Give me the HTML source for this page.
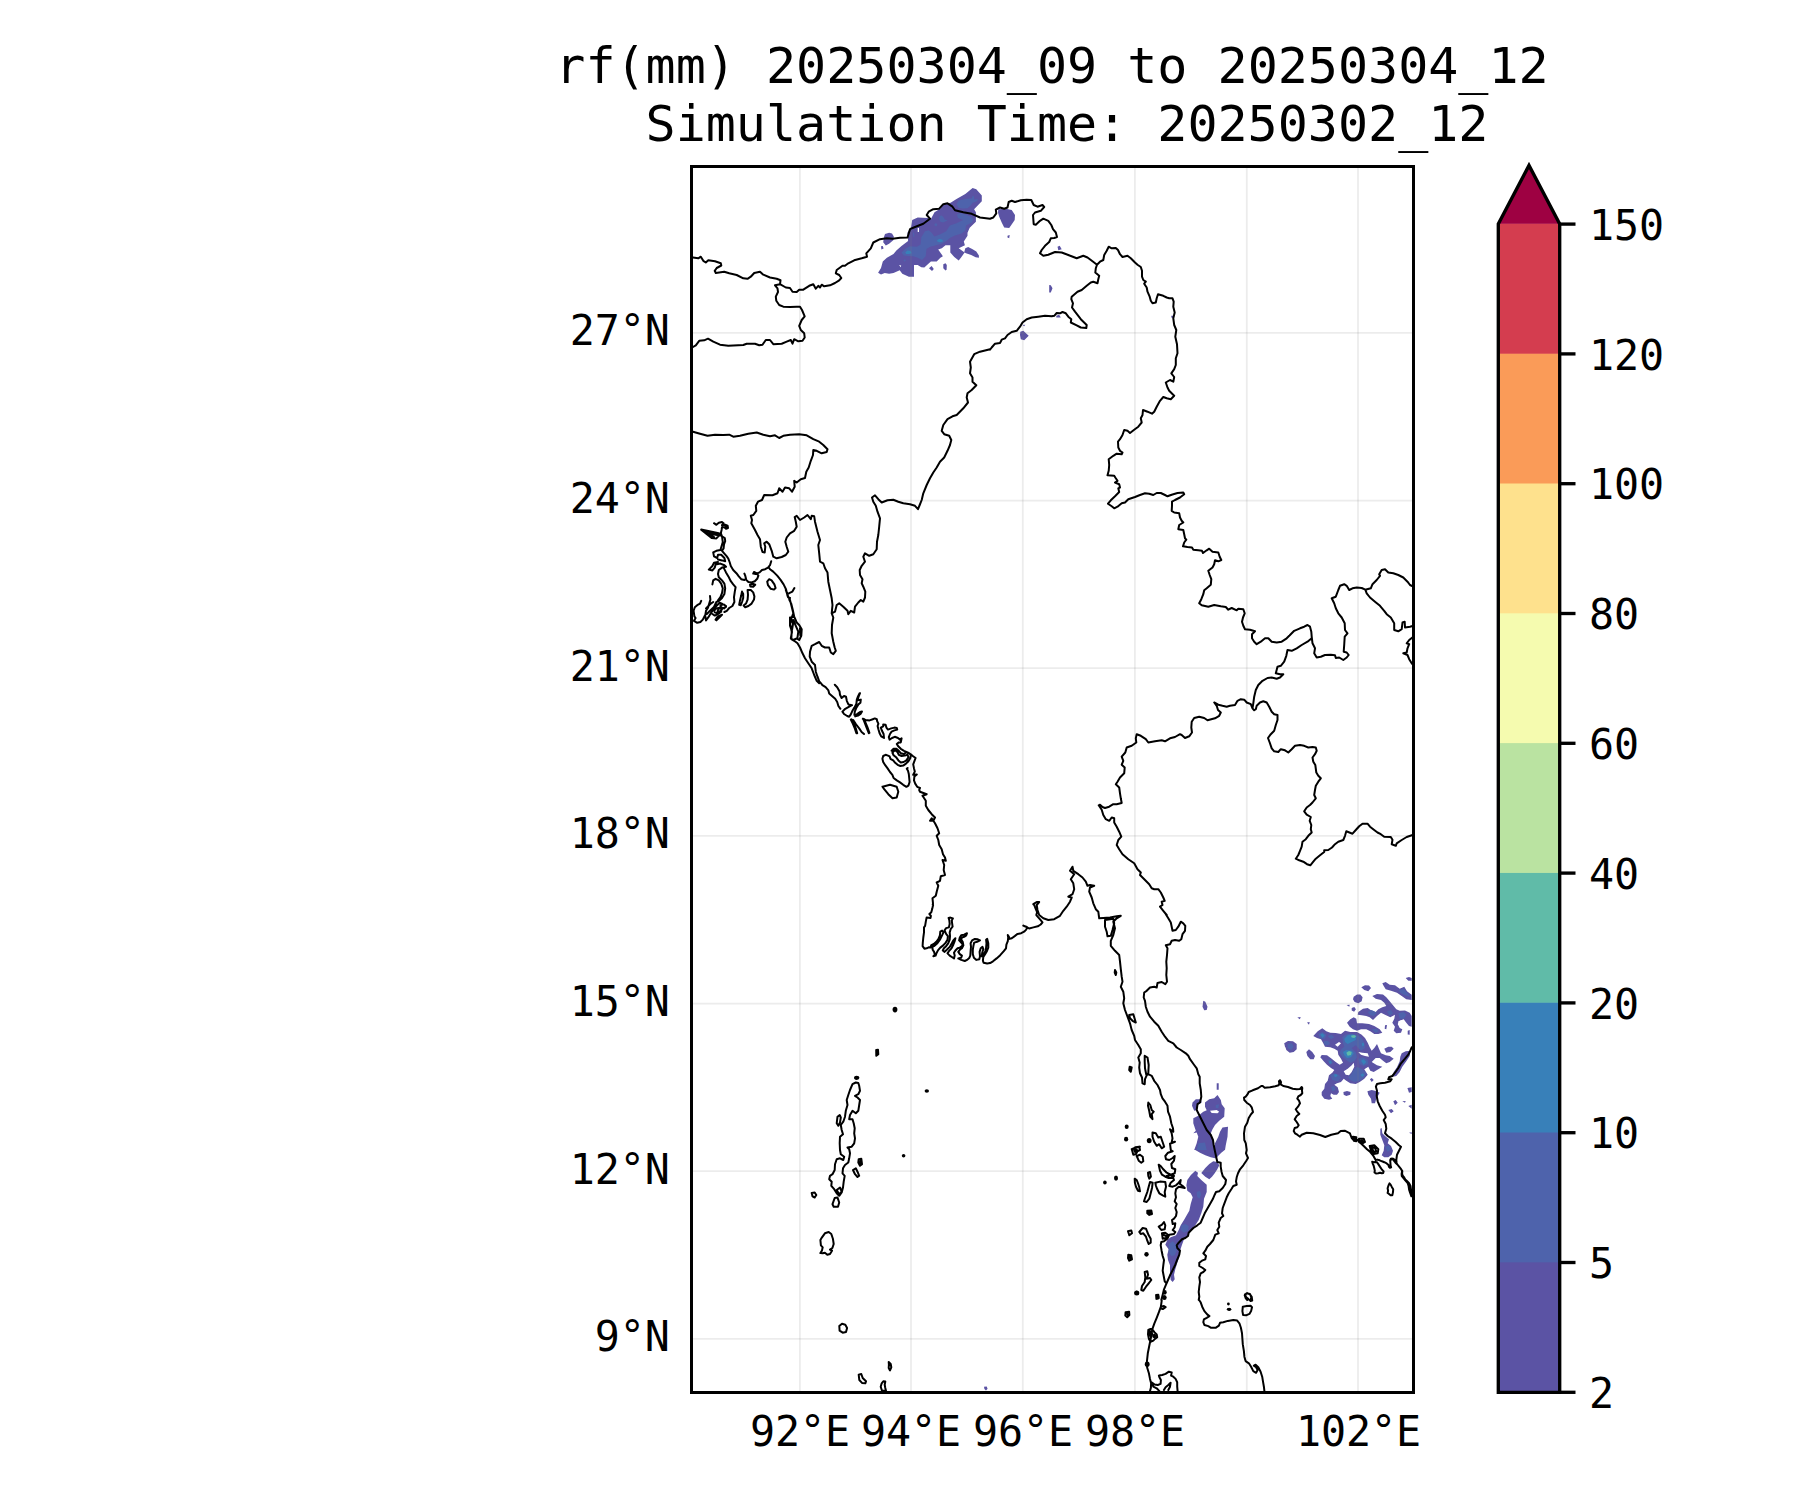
<!DOCTYPE html>
<html><head><meta charset="utf-8"><title>rf(mm) 20250304_09 to 20250304_12</title>
<style>
html,body{margin:0;padding:0;background:#fff;}
body{width:1800px;height:1500px;overflow:hidden;}
svg{display:block;}
text{font-family:"DejaVu Sans Mono","Liberation Mono",monospace;fill:#000;}
.t{font-size:50px;text-anchor:middle;}
.l{font-size:41.67px;letter-spacing:-0.08px;}
.b{fill:none;stroke:#000;stroke-width:2;stroke-linejoin:round;stroke-linecap:round;}
.g{stroke:#808080;stroke-opacity:0.15;stroke-width:1.8;fill:none;}
</style></head><body>
<svg width="1800" height="1500" viewBox="0 0 1800 1500">
<rect width="1800" height="1500" fill="#fff"/>
<text class="t" x="1052" y="83.2">rf(mm) 20250304_09 to 20250304_12</text>
<text class="t" x="1067" y="141">Simulation Time: 20250302_12</text>
<defs><clipPath id="ax"><rect x="691.5" y="166.5" width="722.0" height="1226.0"/></clipPath></defs>
<g clip-path="url(#ax)">
<path fill="#5b53a4" d="M998.3,209.2 1005.8,208.7 1011.7,210.0 1015.0,215.0 1014.7,220.0 1010.8,225.8 1009.2,228.0 1004.2,227.5 1001.7,222.5 999.2,216.7 998.0,212.5ZM1007.5,235.8 1009.7,235.0 1009.2,238.3 1007.5,237.5ZM1057.5,246.7 1059.7,245.8 1061.7,249.2 1058.3,250.3ZM1049.2,285.0 1050.8,285.3 1052.5,288.3 1050.8,292.5 1049.2,292.5ZM1056.3,315.8 1059.2,314.7 1060.8,317.5 1056.3,317.5ZM1022.5,325.0 1025.3,324.7 1024.2,326.3ZM1020.3,331.7 1023.3,330.8 1028.7,335.8 1024.2,340.3 1020.8,339.2 1020.0,335.0ZM1171.3,315.8 1173.0,315.8 1173.0,318.0 1171.3,317.5ZM1203.3,1000.8 1205.3,1001.7 1207.5,1006.7 1206.7,1010.0 1204.2,1010.3 1202.5,1006.7ZM1284.2,1043.3 1287.5,1041.3 1290.0,1041.7 1290.0,1051.7 1287.5,1050.8 1285.0,1046.7ZM1216.7,1083.3 1218.7,1083.3 1218.7,1089.7 1216.7,1089.7ZM1192.5,1102.5 1195.8,1099.2 1200.8,1099.2 1201.7,1102.5 1198.3,1104.2 1196.7,1110.0 1194.2,1110.8 1192.0,1105.8ZM1205.0,1102.5 1209.2,1099.2 1214.2,1098.3 1217.5,1095.0 1220.8,1100.0 1221.7,1104.2 1224.7,1108.3 1224.2,1116.7 1219.2,1120.8 1215.0,1125.0 1212.5,1129.2 1210.8,1133.3 1212.5,1138.3 1214.2,1145.0 1215.0,1150.0 1194.2,1150.0 1196.7,1143.3 1198.3,1136.7 1196.7,1132.5 1193.3,1133.3 1195.8,1130.8 1193.3,1123.3 1193.3,1118.3 1198.3,1115.8 1203.3,1111.7 1206.7,1110.3 1205.0,1106.7ZM1222.5,1127.5 1228.0,1126.7 1227.5,1136.7 1225.8,1145.0 1225.0,1150.0 1214.2,1150.0 1215.0,1143.3 1218.3,1136.7 1220.0,1131.7ZM1405.7,978.0 1409.0,977.1 1411.7,978.0 1411.7,980.7 1408.3,980.7ZM1382.3,983.3 1385.7,982.0 1389.7,984.7 1395.0,985.3 1399.7,988.7 1404.3,986.7 1407.0,991.3 1411.7,994.7 1411.7,1000.0 1406.3,999.3 1401.7,996.0 1397.0,992.7 1391.0,990.7 1385.7,989.3 1383.7,986.0ZM1361.3,987.3 1365.0,985.3 1369.0,985.6 1371.0,988.0 1368.3,991.3 1364.3,990.0ZM1353.7,996.7 1357.0,994.4 1360.3,994.4 1362.6,997.3 1361.7,1001.3 1358.3,1003.3 1354.6,1002.0 1353.0,999.3ZM1372.3,996.0 1377.0,994.0 1383.0,994.4 1386.3,997.3 1389.7,1001.3 1393.0,1005.3 1396.3,1009.3 1399.7,1010.7 1405.0,1010.4 1409.7,1012.7 1411.7,1016.0 1411.7,1026.7 1409.0,1026.0 1406.3,1022.7 1403.7,1019.3 1399.7,1020.7 1397.7,1024.0 1399.7,1028.0 1402.3,1029.3 1401.0,1032.7 1396.3,1033.3 1393.7,1030.7 1395.0,1026.7 1392.3,1022.7 1394.3,1018.7 1395.0,1014.7 1390.3,1017.3 1385.0,1014.7 1381.0,1012.7 1377.0,1016.0 1373.0,1020.0 1369.7,1017.3 1366.3,1016.0 1361.7,1015.3 1357.7,1014.7 1358.3,1012.0 1363.0,1008.7 1367.7,1008.0 1371.7,1010.7 1375.7,1012.0 1378.3,1009.3 1382.3,1007.3 1386.3,1006.0 1384.3,1002.7 1381.0,1000.0 1375.7,998.7ZM1351.7,1008.0 1354.3,1006.9 1355.9,1009.3 1354.1,1011.7 1351.7,1010.4ZM1346.6,1005.1 1349.7,1004.7 1349.3,1006.7ZM1297.3,1017.6 1300.7,1017.1 1299.9,1019.3ZM1307.0,1022.4 1309.7,1022.0 1309.0,1024.7ZM1385.0,1025.3 1387.0,1025.1 1386.3,1029.3 1384.7,1028.7ZM1407.7,1030.7 1409.7,1030.0 1409.7,1034.7 1407.7,1034.4ZM1347.0,1022.7 1350.3,1019.3 1353.7,1017.3 1356.3,1018.7 1357.0,1023.3 1362.3,1023.3 1369.0,1024.0 1374.3,1026.0 1379.7,1029.3 1382.3,1032.7 1378.3,1034.0 1374.3,1034.0 1370.3,1031.3 1366.3,1029.3 1361.0,1029.3 1357.0,1030.7 1353.0,1029.3 1349.7,1026.7ZM1313.3,1036.0 1317.7,1031.3 1322.3,1028.3 1326.3,1031.3 1330.3,1032.7 1335.7,1033.1 1341.0,1034.0 1345.0,1030.7 1350.3,1032.0 1357.0,1032.0 1361.7,1034.7 1365.0,1038.0 1367.7,1042.7 1369.7,1047.3 1371.7,1050.7 1374.3,1048.0 1377.0,1044.0 1379.0,1048.7 1381.0,1053.3 1385.7,1055.3 1389.7,1056.0 1393.7,1058.7 1389.7,1062.0 1386.3,1063.3 1383.0,1060.7 1379.7,1058.0 1375.7,1058.0 1371.7,1062.0 1377.0,1065.3 1382.3,1066.7 1378.3,1069.3 1373.7,1072.0 1370.3,1070.7 1368.3,1066.7 1364.3,1069.3 1367.7,1074.7 1364.3,1078.7 1359.7,1082.0 1355.7,1084.0 1350.3,1083.3 1346.3,1080.7 1343.7,1078.7 1341.0,1082.0 1337.0,1083.3 1334.3,1084.7 1337.7,1087.3 1339.0,1092.0 1337.0,1094.7 1333.7,1094.7 1331.0,1093.3 1330.3,1096.0 1332.3,1098.7 1329.0,1099.7 1324.3,1098.7 1321.7,1095.3 1321.7,1092.0 1324.3,1088.7 1325.0,1084.0 1327.7,1080.7 1329.0,1075.3 1332.3,1072.7 1334.3,1070.0 1331.0,1068.0 1327.0,1064.7 1323.7,1061.3 1320.3,1057.3 1321.7,1054.9 1327.0,1055.3 1331.7,1058.7 1335.7,1062.0 1339.7,1064.7 1343.0,1062.7 1341.0,1058.7 1338.3,1054.7 1337.7,1050.7 1334.3,1048.7 1330.3,1047.3 1325.0,1046.7 1323.0,1042.7 1321.0,1039.3 1317.0,1038.0ZM1284.3,1043.3 1288.3,1040.9 1293.0,1041.3 1296.7,1044.0 1296.7,1049.3 1293.7,1052.0 1289.7,1052.7 1286.3,1050.0ZM1306.3,1052.0 1309.0,1049.3 1312.3,1052.0 1315.0,1056.0 1313.7,1059.3 1310.3,1059.3 1307.4,1056.0ZM1384.3,1048.7 1388.3,1046.7 1391.7,1046.7 1393.7,1048.7 1390.3,1052.0 1386.3,1052.7ZM1401.7,1053.3 1405.7,1051.3 1410.3,1050.7 1409.7,1056.0 1406.3,1061.3 1402.3,1066.7 1399.7,1072.0 1396.3,1076.0 1393.0,1076.7 1393.7,1072.0 1397.0,1067.3 1399.7,1061.3 1400.3,1056.7ZM1369.9,1079.3 1371.7,1078.0 1373.7,1080.0 1371.7,1082.0ZM1343.4,1092.0 1347.0,1090.9 1350.6,1092.0 1350.3,1094.7 1346.3,1096.0 1343.7,1094.7ZM1367.4,1091.3 1371.7,1090.0 1377.0,1091.3 1379.7,1092.7 1378.3,1095.3 1376.3,1098.7 1375.0,1103.3 1371.7,1103.3 1371.0,1098.7 1368.3,1094.7ZM1407.4,1088.0 1411.7,1087.3 1411.7,1092.0 1409.0,1092.7ZM1393.3,1101.3 1395.7,1100.0 1397.7,1102.7 1395.0,1105.3ZM1402.3,1101.3 1405.7,1101.1 1405.0,1102.7ZM1408.3,1106.0 1411.7,1104.7 1411.7,1108.7ZM1388.3,1110.0 1391.7,1109.1 1393.7,1111.3 1391.0,1113.3ZM1409.0,1132.7 1411.7,1132.3 1411.7,1134.0ZM1380.3,1128.7 1381.7,1128.0 1382.3,1133.3 1385.0,1136.0 1389.0,1139.3 1387.7,1143.3 1391.0,1146.0 1393.0,1150.7 1391.7,1154.7 1388.3,1157.3 1384.3,1157.3 1381.7,1155.3 1383.7,1150.7 1384.3,1145.3 1382.3,1140.0 1380.3,1134.7ZM984.0,1386.7 986.7,1386.4 987.6,1388.7 986.0,1390.4 984.4,1389.1ZM1195.3,1150.0 1200.0,1152.7 1205.3,1155.3 1210.7,1157.3 1216.3,1158.4 1218.0,1156.0 1221.3,1152.7 1224.7,1150.0ZM1213.3,1161.3 1217.3,1162.0 1219.3,1165.3 1217.3,1169.3 1214.7,1173.3 1212.0,1176.7 1209.3,1179.3 1205.3,1176.7 1201.3,1173.1 1205.3,1168.0 1209.3,1164.0ZM1195.3,1170.7 1198.0,1172.7 1197.3,1176.0 1201.3,1180.0 1206.7,1184.7 1206.7,1192.0 1204.0,1198.7 1203.3,1206.7 1201.3,1213.3 1198.7,1220.0 1195.3,1225.3 1192.0,1228.7 1189.3,1232.0 1187.3,1236.0 1184.0,1239.3 1182.0,1244.7 1180.0,1250.7 1179.3,1257.3 1177.3,1262.7 1175.3,1269.3 1174.0,1274.7 1174.7,1279.3 1172.7,1282.0 1170.7,1280.0 1170.0,1273.3 1170.0,1265.3 1168.0,1260.0 1167.3,1254.7 1168.7,1249.3 1165.3,1244.7 1167.3,1240.0 1170.7,1237.3 1176.0,1235.3 1178.7,1230.0 1180.7,1225.3 1184.0,1220.0 1186.7,1215.3 1189.3,1210.7 1190.7,1204.0 1192.7,1197.3 1190.7,1193.3 1187.3,1190.7 1186.4,1185.3 1187.3,1180.0 1190.7,1175.3ZM878.1,272.7 881.0,268.0 882.8,261.4 886.9,257.7 893.5,254.0 896.4,250.4 901.5,246.0 908.1,240.9 907.4,232.8 911.1,226.9 912.2,220.0 917.7,217.4 927.9,218.1 930.9,218.9 934.5,212.3 940.4,208.6 943.3,204.2 950.6,202.7 956.5,199.1 965.3,193.9 972.6,188.1 976.3,189.2 981.8,195.4 981.8,201.3 974.1,209.3 975.9,212.3 975.9,221.8 969.7,227.7 967.5,232.8 967.5,235.7 963.8,241.6 964.9,245.2 958.7,248.2 964.6,252.6 960.9,257.7 958.7,260.6 954.3,257.0 950.3,252.6 950.3,245.2 945.5,245.2 941.8,248.2 938.2,249.6 942.9,256.2 940.4,257.7 936.7,261.4 930.9,261.4 924.3,267.6 921.3,267.2 917.7,265.0 914.0,265.0 914.0,276.8 908.9,276.8 902.3,273.8 899.7,270.2 893.5,273.1 889.1,273.8 884.7,273.1 881.0,274.6ZM885.0,233.9 889.1,232.8 892.0,233.5 893.8,236.5 893.5,240.1 889.1,243.8 885.8,245.6 883.2,242.3 883.9,237.2ZM881.0,246.3 882.8,246.0 883.6,248.5 881.4,249.6ZM965.3,248.2 968.2,247.1 972.6,249.3 976.3,251.5 978.9,255.5 978.9,257.7 975.6,257.3 971.2,255.1 966.0,253.3 964.2,252.2ZM929.0,268.3 931.6,266.1 933.8,269.1 932.0,270.9ZM943.3,264.3 945.5,263.2 946.8,265.0 946.6,269.8 945.5,270.5 943.3,268.3Z"/>
<path fill="#ffffff" d="M1210.0,1110.8 1216.7,1110.0 1219.2,1111.7 1217.5,1113.3 1211.7,1113.0ZM1398.3,1021.3 1402.3,1020.0 1404.3,1022.7 1401.7,1026.0 1398.3,1024.7ZM1335.0,1044.7 1339.0,1042.0 1341.0,1043.3 1337.7,1046.7ZM1358.3,1052.0 1362.3,1052.7 1367.7,1053.3 1369.0,1056.7 1365.0,1056.0 1361.0,1054.7ZM1343.7,1071.3 1347.7,1068.7 1351.7,1065.3 1353.7,1062.7 1354.3,1066.7 1351.7,1072.0 1349.0,1075.3 1345.7,1074.7ZM917.7,228.0 919.0,228.0 919.0,232.1 917.7,232.1ZM899.0,265.0 901.2,265.4 900.8,267.2Z"/>
<path fill="#4e63ac" d="M1215.8,1105.0 1219.2,1104.2 1218.3,1108.3 1215.8,1108.0ZM1198.3,1143.3 1205.0,1142.5 1206.7,1150.0 1196.7,1150.0ZM1318.3,1034.0 1322.3,1032.0 1326.3,1034.7 1325.0,1038.7 1320.3,1038.7ZM1327.7,1036.0 1331.7,1034.7 1334.3,1037.3 1331.0,1039.3ZM1342.3,1037.3 1345.0,1034.7 1350.3,1033.6 1357.0,1034.7 1361.7,1038.0 1364.3,1042.7 1365.0,1048.0 1361.0,1050.7 1358.3,1048.0 1355.7,1045.3 1351.7,1048.0 1355.7,1052.0 1357.0,1057.3 1354.3,1061.3 1350.3,1062.7 1346.3,1060.0 1342.3,1056.7 1339.7,1053.3 1341.0,1049.3 1344.3,1046.7 1343.0,1042.7ZM1358.3,1058.7 1363.0,1057.3 1367.7,1060.0 1368.3,1064.0 1363.7,1066.0 1359.7,1064.0ZM1351.0,1074.7 1353.0,1070.7 1357.0,1066.7 1362.3,1069.3 1366.3,1073.3 1364.3,1077.3 1359.7,1080.7 1354.3,1082.0 1350.3,1080.0 1348.3,1077.3ZM1330.3,1075.3 1334.3,1073.3 1339.0,1074.7 1341.0,1078.0 1337.7,1081.3 1332.3,1080.0ZM1323.7,1041.3 1327.7,1040.7 1330.3,1043.3 1327.7,1045.3 1324.3,1044.7ZM1327.0,1060.0 1331.0,1059.3 1333.0,1062.7 1330.3,1064.7ZM1287.7,1044.0 1291.7,1043.3 1293.7,1046.7 1291.0,1050.0 1287.7,1048.0ZM1367.7,1012.0 1371.7,1010.0 1377.0,1012.7 1373.7,1016.0 1370.3,1015.3ZM1387.0,1011.3 1391.0,1010.0 1393.0,1013.3 1389.7,1016.0ZM1398.3,1013.3 1403.7,1012.0 1406.3,1014.7 1403.7,1018.7 1399.7,1018.7ZM1398.3,990.7 1403.7,988.7 1407.7,993.3 1410.3,996.7 1405.0,995.3 1401.0,993.3ZM1371.7,1029.3 1376.3,1028.7 1379.0,1031.3 1375.7,1033.1ZM1331.0,1086.7 1334.3,1086.0 1335.7,1090.0 1332.3,1091.3ZM1385.0,1146.7 1389.0,1145.3 1391.0,1149.3 1387.7,1152.0ZM1196.7,1192.0 1200.0,1190.7 1201.3,1194.7 1199.3,1198.7 1197.1,1196.7ZM1181.3,1225.3 1185.3,1224.0 1188.7,1226.0 1188.0,1230.7 1184.0,1232.7 1180.7,1230.0ZM1168.7,1244.0 1172.7,1241.3 1176.0,1244.7 1176.7,1250.7 1174.7,1255.3 1171.3,1256.0 1168.7,1252.0ZM956.5,204.2 958.7,200.5 965.3,199.1 971.9,198.3 972.6,195.8 974.1,196.5 974.1,199.4 977.8,199.1 977.0,201.3 972.6,202.7 970.4,205.7 967.5,208.2 963.1,208.6 958.7,207.9ZM939.3,216.7 941.1,215.2 943.3,216.7 944.8,219.6 947.7,220.3 943.3,222.5 940.4,221.8 939.3,219.6ZM934.5,224.0 936.0,222.9 937.4,224.4 936.3,226.6 934.5,225.5ZM901.5,252.6 905.2,248.9 909.6,246.3 916.9,246.7 920.6,244.5 921.3,237.2 925.0,231.3 928.7,230.2 931.6,232.8 934.5,236.5 940.4,234.3 946.2,231.3 949.9,225.5 956.5,223.3 963.1,220.0 958.0,218.1 956.9,214.5 960.2,213.0 965.3,214.5 971.2,216.7 973.4,219.6 971.9,222.5 966.0,225.5 965.3,230.6 961.6,233.5 954.3,235.7 949.9,237.9 946.2,240.9 941.8,243.8 936.0,245.2 930.1,246.7 926.5,248.9 925.7,256.2 922.1,259.9 917.7,257.7 913.3,256.2 908.1,255.9 903.7,255.5ZM903.4,259.9 905.2,259.2 905.9,260.6 904.5,261.7ZM912.9,232.8 914.0,232.4 914.4,236.5 913.3,236.8Z"/>
<path fill="#3880b9" d="M1320.3,1034.7 1322.3,1033.3 1324.7,1035.3 1322.6,1038.0ZM1344.3,1038.7 1347.7,1035.3 1353.0,1034.4 1356.3,1036.7 1355.7,1040.0 1351.7,1042.0 1347.7,1044.0 1345.0,1042.0ZM1343.0,1052.0 1346.3,1050.0 1351.7,1050.7 1353.7,1053.3 1351.0,1057.3 1347.0,1058.0 1344.3,1055.3ZM1361.0,1060.7 1363.7,1059.3 1366.3,1062.0 1363.7,1064.7ZM1361.7,1043.3 1363.7,1042.7 1364.3,1045.3 1362.3,1046.4ZM1360.3,1074.7 1363.0,1073.3 1364.3,1075.3 1362.1,1077.1ZM1333.7,1074.7 1336.3,1074.0 1337.7,1076.0 1335.0,1077.3ZM1329.0,1061.3 1331.0,1061.1 1331.7,1063.3 1329.7,1063.7ZM905.2,252.6 907.4,250.4 910.3,250.7 911.8,253.3 908.9,254.0 906.3,253.9ZM937.1,240.1 939.6,239.0 942.6,239.8 942.9,241.6 939.6,242.2 937.4,241.6Z"/>
<path fill="#60bba8" d="M1351.0,1035.7 1354.1,1034.9 1356.3,1036.0 1354.3,1038.0 1351.7,1037.6ZM1346.3,1052.7 1349.0,1050.9 1351.7,1052.0 1351.0,1054.9 1347.7,1055.7Z"/>
<line class="g" x1="799.9" y1="166.5" x2="799.9" y2="1392.5"/><line class="g" x1="911.0" y1="166.5" x2="911.0" y2="1392.5"/><line class="g" x1="1022.8" y1="166.5" x2="1022.8" y2="1392.5"/><line class="g" x1="1134.9" y1="166.5" x2="1134.9" y2="1392.5"/><line class="g" x1="1246.8" y1="166.5" x2="1246.8" y2="1392.5"/><line class="g" x1="1358.0" y1="166.5" x2="1358.0" y2="1392.5"/><line class="g" x1="691.5" y1="1338.9" x2="1413.5" y2="1338.9"/><line class="g" x1="691.5" y1="1171.2" x2="1413.5" y2="1171.2"/><line class="g" x1="691.5" y1="1003.6" x2="1413.5" y2="1003.6"/><line class="g" x1="691.5" y1="835.9" x2="1413.5" y2="835.9"/><line class="g" x1="691.5" y1="668.2" x2="1413.5" y2="668.2"/><line class="g" x1="691.5" y1="500.6" x2="1413.5" y2="500.6"/><line class="g" x1="691.5" y1="332.9" x2="1413.5" y2="332.9"/>
<path class="b" d="M690.0,257.2 693.0,257.5 698.3,258.3 700.8,256.7 703.3,260.8 705.8,262.5 708.3,260.3 715.0,261.3 720.8,263.3 721.3,265.5 716.7,268.0 714.7,270.8 715.8,273.0 724.2,271.7 729.2,273.3 736.7,275.0 743.3,278.3 747.5,278.8 750.8,276.7 754.2,273.0 760.0,271.7 763.3,274.7 770.0,277.5 776.7,278.8 780.5,280.3 780.0,284.2 785.8,287.5 790.0,288.0 792.5,291.7 796.7,292.0 799.2,289.7 803.3,289.7 809.2,285.8 813.3,284.2 815.8,288.7 818.3,285.8 820.0,287.5 821.7,284.7 824.2,286.3 830.0,285.3 835.0,283.0 839.2,280.3 841.3,278.0 839.2,275.0 835.8,273.3 836.7,270.0 842.5,265.8 845.0,265.8 848.3,263.3 854.2,260.3 861.7,258.3 867.0,256.7 866.3,253.3 870.8,248.3 873.3,242.5 880.0,239.2 886.7,238.3 892.5,238.7 900.0,237.8 907.5,237.5 910.0,229.2 915.0,227.0 923.3,223.7 930.0,218.7 926.7,215.0 928.7,211.7 933.3,209.2 939.2,208.7 943.3,204.2 947.5,203.3 952.5,206.7 955.0,210.3 963.3,212.2 971.7,213.8 980.0,217.5 990.0,218.7M780.0,284.2 775.0,285.3 777.5,288.3 778.0,292.0 775.8,296.7 776.3,300.8 779.2,305.0 783.3,306.7 790.0,307.0 796.7,306.7 800.0,306.7 802.0,310.0 804.7,316.3 801.7,320.0 799.2,325.8 800.8,330.0 804.2,333.3 804.7,337.5 802.5,340.8 798.3,341.3 794.2,339.2 792.5,343.7 790.8,340.0 786.7,341.7 781.7,343.7 773.3,344.2 770.0,340.0 765.8,340.0 762.5,344.7 759.2,345.3 755.0,343.7 746.7,343.7 743.3,345.0 728.3,345.8 720.0,344.7 713.3,341.7 708.0,338.7 704.2,340.3 699.2,340.8 695.8,345.3 693.0,347.0 690.0,347.8M990.0,349.2 980.0,351.7 974.2,354.2 970.0,361.7 970.8,367.5 970.0,373.3 972.5,377.5 972.5,381.7 976.3,385.3 971.7,390.0 967.5,393.3 966.7,397.5 968.0,402.5 963.3,408.3 956.7,415.0M990.0,218.7 993.3,217.5 996.3,213.3 995.8,209.7 1000.0,207.5 1004.2,208.7 1007.5,207.5 1008.7,202.0 1011.7,200.8 1015.0,202.0 1020.8,200.3 1026.7,199.7 1031.3,200.0 1033.7,205.0 1037.5,206.7 1042.5,205.0 1044.2,207.0 1040.8,210.8 1035.0,212.5 1033.0,215.0 1033.7,224.2 1035.8,224.7 1040.0,220.8 1043.3,218.7 1048.3,220.8 1051.3,225.0 1053.0,229.2 1055.8,232.5 1057.0,237.0 1054.2,238.0 1050.8,238.3 1049.2,242.0 1045.0,245.8 1041.7,250.0 1040.0,253.3 1043.3,255.8 1048.3,254.7 1055.0,252.0 1061.7,252.5 1068.3,255.0 1076.7,258.3 1083.3,255.8 1087.5,257.5 1092.5,261.3 1097.0,264.7M1097.0,264.7 1100.0,261.7 1103.3,260.0 1104.2,255.0 1106.7,250.8 1108.7,246.7 1111.7,248.3 1115.8,248.0 1118.0,250.0 1120.0,254.2 1122.5,257.0 1127.5,255.8 1130.8,258.3 1135.0,262.5 1137.5,264.7 1140.8,267.0 1142.0,270.8 1142.0,276.7 1143.3,280.0 1145.8,281.7 1144.2,283.7 1146.7,287.5 1147.5,291.7 1149.7,296.7 1150.8,300.8 1152.5,303.3 1155.8,302.5 1156.7,298.3 1158.0,294.2 1163.3,295.8 1166.7,297.5 1169.2,298.3 1172.5,298.3 1173.7,301.7 1173.3,306.7 1174.7,312.5 1173.3,318.3 1174.2,325.0 1176.3,330.0 1175.3,336.7 1177.0,344.2 1177.5,353.3 1175.8,358.3 1175.8,365.0 1174.2,369.2 1171.3,373.3 1174.2,377.0 1173.3,381.7 1170.0,380.0 1165.8,382.5 1167.5,387.5 1169.2,390.8 1174.2,395.8 1170.8,399.2 1166.7,398.3 1163.3,397.0 1160.0,400.8 1156.7,406.7 1154.2,411.7 1152.0,413.7 1147.5,411.7 1143.0,410.0 1142.5,415.0M1097.0,264.7 1095.8,268.3 1095.3,272.5 1099.2,275.8 1098.3,279.2 1097.5,283.3 1093.3,281.7 1090.8,282.5 1086.7,285.8 1081.7,290.0 1077.5,291.7 1071.7,296.7 1071.3,299.2 1073.0,303.3 1072.0,307.5 1075.0,311.7 1080.8,319.2 1086.7,325.0 1086.3,328.0 1080.8,327.5 1076.7,325.3 1070.8,322.5 1071.3,319.2 1068.3,316.7 1065.8,313.3 1062.5,312.0 1060.0,313.3 1056.7,313.0 1054.2,315.8 1051.7,316.3 1045.0,315.8 1038.3,316.7 1031.7,317.5 1026.7,319.2 1022.5,322.5 1020.0,326.7 1016.7,330.8 1011.7,332.0 1007.5,335.0 1005.0,338.3 1001.7,339.7 1000.0,343.0 995.0,343.7 991.7,347.5 990.0,349.7M690.0,430.8 693.0,431.7 700.0,433.7 707.5,435.8 715.0,434.7 723.3,435.0 729.2,434.7 733.3,436.7 740.0,435.8 748.3,433.7 756.7,432.5 763.3,434.7 770.0,436.3 775.0,435.3 779.2,438.0 783.3,435.8 790.0,434.7 799.2,434.2 806.7,435.3 813.3,439.2 819.2,441.7 823.3,445.0 827.5,449.2 826.7,452.0 821.7,453.3 816.7,450.8 813.3,450.0 813.0,455.0 810.8,460.8 808.7,467.5 806.3,471.7 805.0,478.0 800.8,479.2 796.7,482.5 794.2,480.8 794.7,486.7 792.0,491.7 789.2,488.3 785.0,487.5 782.5,491.7 779.2,488.3 777.5,493.3 772.5,495.3 764.2,495.0 762.0,500.0 758.0,501.7 755.8,505.8 756.3,510.8 753.3,515.0 750.8,515.8 752.0,520.0 751.3,523.3 755.0,530.0 757.5,535.0 760.0,539.2 760.8,546.7 762.5,552.0 764.7,552.5 765.3,546.7 764.2,543.3 766.7,541.7 769.2,544.2 771.7,550.8 773.3,556.7 776.7,558.3 781.7,557.0 785.8,555.0 788.3,551.7 786.7,546.7 785.3,541.7 786.7,537.5 790.0,533.3 794.2,530.8 796.7,526.7 795.8,521.7 794.7,517.0 796.7,515.8 800.0,520.0 804.2,517.5 807.5,515.0 810.8,519.2 811.7,515.8 814.2,516.3 815.0,521.7 817.5,531.7 820.0,540.0 818.3,545.0 819.2,553.3 820.0,561.7 823.3,563.3 825.0,568.3 827.5,572.5 828.3,581.7 830.0,590.0 831.7,598.3 832.5,605.0 831.7,613.3 833.3,617.5 832.0,625.0 831.7,633.3 833.3,641.7 834.7,647.5 835.8,650.8 833.3,654.2 830.8,652.5 829.2,647.5 825.0,647.5 821.7,645.8 819.2,642.0 815.0,644.2 811.7,645.8 810.0,651.7 809.7,656.7 811.7,661.7 815.0,665.0M831.7,613.3 835.0,611.7 836.7,605.0 839.2,603.3 843.3,606.7 847.5,610.8 848.3,614.2 850.8,610.8 854.2,612.5 855.0,606.7 858.3,602.5 860.8,600.0 863.3,601.7 865.0,597.5 865.3,591.7 863.3,586.7 861.7,583.3 862.5,579.2 860.0,575.0 859.7,570.0 861.7,565.8 865.0,561.7 863.3,556.7 865.0,553.3 869.2,555.8 873.3,554.2 876.7,549.2 877.0,541.7 878.3,535.0 879.2,526.7 880.0,518.3 877.5,511.7 875.8,505.8 873.3,501.7 872.0,497.5 875.0,495.3 878.3,499.2 881.7,502.5 887.5,500.3 893.3,499.7 898.3,501.7 903.3,503.3 910.0,504.2 915.0,505.8 918.0,509.2 919.7,505.0 921.7,500.0 923.3,493.3 926.7,485.0 930.0,478.3 933.3,472.5 936.7,467.5 940.0,461.7 944.2,457.5 947.5,450.8 950.0,445.0 951.3,440.0 949.2,435.8 944.2,434.2 941.7,430.8 943.3,425.0 947.5,419.2 952.5,416.3 956.7,415.0M714.0,523.2 716.4,524.8 718.8,522.8 722.0,522.0 723.6,523.2 722.0,525.2 725.2,524.8 727.6,525.6 728.0,528.0 726.0,528.8 724.4,527.2 722.0,527.2 721.6,530.0 720.8,533.2 722.0,536.4 724.8,538.0 725.2,541.2 724.0,544.4 723.6,548.4 722.0,550.8 724.4,553.6 726.8,556.4 728.4,558.8 729.6,562.0 730.8,566.0 733.2,570.0 736.4,573.2 738.8,576.4 741.2,579.2 744.4,580.0 746.0,578.8 745.2,575.6 744.4,573.6M746.0,579.6 748.4,582.0 751.6,582.4 754.8,581.2 757.2,578.8 758.4,575.6 756.4,573.2 754.0,572.0 753.2,573.6 755.6,574.0 759.6,572.4 762.0,570.0 765.2,569.2 768.0,567.6 770.0,565.2 771.2,561.2M769.2,568.0 770.0,569.2 773.2,571.6 777.2,575.6 780.4,579.6 783.6,584.4 786.0,589.2 787.2,594.0 789.2,593.2 792.4,591.6 794.4,588.0M787.2,594.8 788.0,597.2 790.0,598.0 789.2,599.6 791.2,603.6 792.8,610.0 794.0,615.6M701.2,529.6 718.8,533.2M706.0,533.2 720.4,535.6M722.0,536.4 722.8,542.0 721.6,546.0 720.4,550.0 716.4,550.8 713.2,552.4 714.0,556.4 717.2,558.0 718.0,554.8 721.2,554.8 724.4,558.0 725.2,561.2 722.0,560.4 718.0,559.6M718.0,562.0 714.0,562.8 712.4,566.0 708.8,569.6 712.4,570.4 714.8,567.6 715.6,564.4 720.4,563.6 724.4,565.2 726.0,566.8 722.0,567.6 718.8,570.0 718.0,574.0 718.8,577.2 722.0,580.4 724.4,583.6 725.2,588.4 724.4,594.0 722.0,598.0 719.6,600.4 716.4,602.0 714.8,605.2 713.2,608.4M723.6,567.6 726.0,572.4 728.4,576.4 730.8,581.2 733.2,584.4 735.6,587.2 734.8,591.6 734.0,597.2 734.4,602.0 732.4,606.0 729.2,608.0 726.8,610.8 724.4,612.0M712.4,584.4 713.2,580.4 715.6,578.8 718.8,580.4 721.2,583.6 722.8,588.4 722.0,593.2 720.4,597.2 718.0,600.4M710.0,596.0 710.4,599.6 709.2,603.6 708.0,607.6 706.0,610.8 705.2,615.6 706.0,620.4 708.4,617.2 710.8,613.2 713.2,610.0 716.4,606.0 719.6,602.8 722.0,603.6 720.4,606.8 718.0,610.0 717.2,613.2 719.6,611.6 722.8,608.4 726.0,606.8M701.2,600.8 700.0,603.6 697.2,605.2 694.8,607.2 693.6,610.8 694.4,616.4 695.6,618.0 694.0,620.8 697.2,622.8 700.4,622.0 702.8,619.6 704.8,615.6M716.4,620.4 718.8,618.0 722.0,614.8 719.6,615.6 717.2,617.2 715.6,619.6M706.0,608.4 708.4,606.0 710.8,603.6 713.2,602.0M706.8,614.0 710.0,610.8 713.2,607.6 716.4,604.4M714.0,610.8 716.4,608.4 719.6,607.6 722.0,609.2 720.4,611.6 717.2,613.2 714.8,612.4M712.4,614.0 714.8,615.6 718.0,614.0 721.2,611.6M720.4,605.2 723.6,604.4 726.0,606.0 724.4,608.4 722.0,607.6M725.2,525.2 727.2,526.0 727.4,527.8 725.8,528.2 725.2,526.8 726.4,527.0M702.0,530.2 719.6,533.8M703.6,531.4 714.0,537.2M701.2,529.6 720.4,534.0 716.4,538.4 711.6,538.0ZM769.2,579.2 771.6,580.4 774.4,584.4 775.6,588.0 774.0,589.6 770.8,588.8 768.0,585.2 767.2,581.6ZM747.6,590.0 750.8,590.0 753.2,592.4 754.4,596.4 754.0,599.6 751.6,603.6 748.4,606.0 745.2,607.2 743.6,605.6 746.0,603.6 747.6,599.6 748.0,594.8ZM742.0,591.6 743.2,594.0 743.2,598.0 742.0,602.0 740.8,605.2 739.2,604.8 740.0,600.4 741.2,595.6ZM750.0,584.8 753.2,584.0 755.2,584.8 753.2,586.8 750.4,586.4ZM785.8,590.0 787.5,595.0 790.0,600.0 791.7,606.7 793.3,613.3 791.7,617.5 790.0,623.3 791.7,631.7 791.3,639.2 794.2,640.8 797.5,643.3 800.0,647.5 802.5,653.3 805.0,658.3 808.3,663.3 811.7,668.3 814.2,675.0 816.7,680.8 819.2,683.3M815.0,665.0 815.8,671.7 817.5,676.7 819.7,682.5M793.3,620.0 795.8,625.8 798.3,631.7 797.5,637.5M800.0,628.3 800.3,635.3M790.8,618.3 793.0,624.2 792.0,630.0M919.2,790.0 920.0,791.7 926.7,794.2 922.5,795.8 925.8,800.8 925.8,805.8 928.3,810.0 931.7,814.2 935.0,817.5 933.3,820.8 930.0,820.8 931.7,818.3 935.0,823.3 937.5,828.3 939.2,833.3 936.7,835.8 938.3,840.0M790.0,617.5 794.2,616.7 796.7,622.5 799.2,625.0 801.7,629.2 801.3,635.8 799.2,640.0 796.7,638.3 793.3,640.0 790.8,638.3 792.0,631.7 790.0,625.8ZM882.5,786.7 890.0,784.7 896.7,786.7 898.3,791.7 896.7,797.5 892.5,798.3 888.3,794.2 884.2,789.2ZM820.0,682.0 822.4,685.2 825.6,687.2 828.4,690.4 829.2,693.6 832.0,696.0 835.2,698.8 837.2,702.0 838.4,706.0 840.4,708.8M834.8,684.8 837.2,687.2 839.6,691.6 840.0,694.8 841.6,698.0 844.0,696.0 846.0,696.8 846.8,700.8 848.4,704.4 852.0,705.2 848.8,706.8 844.8,709.2 842.4,711.6 844.0,714.0 847.2,716.0 849.2,716.8 850.8,714.4 852.4,710.8 854.4,707.6 856.4,703.6 856.8,699.6 858.0,696.4 859.6,693.2M860.0,693.2 858.4,697.2 857.6,700.4 860.8,699.6 860.4,702.8 858.4,704.4 856.4,707.6 854.8,711.6 854.4,714.8 856.8,714.4 860.0,712.0 862.0,711.6 860.8,713.6 858.0,715.6 855.2,716.4M850.8,719.6 852.8,723.6 854.8,728.4 856.4,733.2M851.6,719.4 853.8,723.6 855.8,728.4 857.2,733.2M853.2,720.0 856.0,724.4 859.2,728.4 861.6,732.0 864.0,734.0M863.2,718.8 864.8,722.8 866.4,727.2 868.8,733.2M864.0,719.0 865.6,722.8 867.4,727.2 869.4,732.8M862.8,718.8 865.6,720.0 869.6,720.4 872.8,719.2 874.8,718.4 876.8,719.2 877.2,721.2 878.4,723.6 877.6,726.0 878.4,729.2 879.6,733.2 881.2,736.4 884.0,738.0 883.6,734.0 882.0,730.8 880.8,727.6 883.2,726.4 883.2,724.4 885.6,724.8 886.4,727.6 888.0,729.6 891.2,728.4 894.4,727.6 896.8,728.0 897.2,729.6 894.4,730.4 891.6,731.6 890.0,734.0 888.8,737.2 889.6,739.6 892.0,738.0 894.8,736.8 898.0,738.0 900.0,739.6 901.6,738.4 900.8,742.4 898.8,742.4 896.8,744.0 898.0,746.0 900.8,748.8 904.0,750.8 907.6,752.4 910.4,754.0M891.6,750.8 893.6,748.8 896.4,748.8 898.8,750.8 900.8,753.2 903.6,754.0 906.4,752.4 909.2,753.2 910.8,754.8 910.4,758.0 908.4,761.2 906.0,763.6 903.2,765.6 900.4,766.0 897.6,764.8 895.2,762.8 893.2,760.4 890.4,758.8 889.6,756.4 888.0,755.6 885.6,754.8 883.2,756.0 882.4,758.8 883.2,762.0 885.2,765.2 887.6,768.4 890.0,772.0 892.4,774.8 893.6,778.0 896.8,780.4 900.0,782.4 903.2,784.8 906.4,786.8 908.4,785.6 909.6,782.0 909.2,778.0 908.8,774.0 908.0,770.8 906.8,768.8 907.6,768.0M910.4,754.0 912.8,756.0 915.6,758.0 914.4,761.2 913.2,764.4 914.0,768.4 914.8,771.6 913.2,774.8 916.8,774.4 914.4,776.4 914.0,780.4 915.2,783.6 917.2,786.8 920.0,788.0 919.2,790.0M894.0,750.8 896.0,750.4 897.6,752.4 898.8,754.8 901.6,756.0 904.8,755.6 907.6,754.8 908.4,757.2 906.4,760.4 903.6,762.0 900.8,762.4 898.4,760.4 896.4,757.6 893.6,755.2 892.4,752.8ZM1142.5,415.0 1140.8,418.3 1141.7,422.5 1138.3,426.7 1134.2,429.7 1130.0,433.0 1127.5,430.8 1124.2,430.0 1122.5,435.0 1120.0,439.2 1118.0,441.7 1118.3,447.5 1120.0,450.8 1122.5,452.5 1121.7,454.2 1116.7,453.7 1113.3,455.8 1108.7,459.2 1109.2,465.0 1108.7,470.8 1107.5,475.3 1114.2,475.8 1115.8,478.3 1117.5,480.8 1115.0,482.5 1119.2,484.2 1120.0,487.5 1118.3,488.3 1119.2,492.0 1115.0,496.3 1110.8,500.3 1108.0,503.7 1111.7,506.3 1114.2,508.3 1117.5,506.7 1121.7,503.3 1125.0,502.5 1128.3,499.2 1135.0,497.0 1140.0,495.0 1145.0,493.3 1149.2,493.7 1153.3,495.0 1156.7,493.0 1160.8,493.0 1165.0,495.0 1167.5,496.3 1171.7,494.7 1177.5,493.0 1183.3,492.5 1184.2,494.2 1180.0,497.5 1175.0,500.0 1172.0,501.7 1172.0,505.8 1171.7,510.8 1174.2,512.5 1179.2,513.3 1180.0,517.5 1181.7,520.8 1183.3,522.5 1179.2,525.0 1178.3,529.2 1183.3,530.0 1184.2,534.2 1185.0,538.3 1186.3,539.7 1184.2,542.5 1183.0,546.3 1187.5,547.0 1192.0,547.5 1193.3,549.7 1198.3,550.3 1202.0,550.8 1203.0,553.0 1206.7,550.3 1209.2,548.7 1212.5,551.7 1218.3,552.5 1219.7,556.7 1221.3,560.0 1218.3,561.3 1215.0,560.3 1214.2,564.2 1212.5,567.5 1208.3,570.8 1209.7,575.0 1211.3,579.2 1210.8,584.7 1206.7,588.3 1204.2,590.3 1203.3,594.2 1201.3,599.2 1199.2,603.3 1201.7,605.3 1208.3,606.7 1214.2,605.0 1220.8,606.3 1225.8,607.0 1228.3,609.7 1231.7,608.0 1236.7,610.3 1238.3,608.7 1243.3,609.2 1244.7,613.3 1243.0,617.5 1242.0,621.7 1243.3,625.8 1245.0,629.2 1250.0,629.7 1255.0,631.3 1252.0,634.2 1252.0,638.3 1254.2,641.7 1256.7,644.2 1260.8,641.7 1265.0,638.3 1268.3,638.3 1271.7,641.7 1276.7,642.5 1281.7,641.7 1286.7,638.3 1290.0,635.0M1290.0,635.0 1294.2,630.8 1300.0,628.3 1304.2,626.7 1307.5,625.0 1310.0,626.7 1311.3,631.7 1311.7,636.7M1311.7,636.7 1311.7,638.3 1307.5,641.7 1301.7,645.0 1296.7,648.3 1291.7,650.8 1287.5,650.0 1286.3,655.8 1284.2,661.7 1280.8,665.8 1277.5,666.7 1275.8,673.3 1280.0,674.2 1283.3,674.2 1280.0,677.5 1276.7,678.7 1271.7,677.5 1267.5,678.0 1262.5,680.8 1258.3,685.0 1255.8,690.0 1254.2,696.7 1253.3,703.3 1252.5,708.3 1254.2,710.3 1255.8,709.2 1256.7,705.8 1260.0,702.5 1263.3,701.3 1266.7,702.5 1269.2,706.7 1271.7,711.7 1274.2,714.2 1277.5,715.0 1277.5,720.0 1275.8,725.0 1274.2,730.8 1270.8,734.2 1268.0,738.0 1269.7,742.5 1271.7,748.3 1274.2,751.3 1278.3,752.0 1280.8,749.2 1285.0,750.3 1288.3,752.5 1291.7,749.2 1295.0,745.8 1300.0,745.0 1304.2,745.8 1308.3,747.5 1312.5,747.0 1315.8,747.5 1316.7,750.8 1315.0,754.2 1312.5,757.5 1313.3,761.7 1315.3,765.0 1316.3,772.5 1318.3,775.8 1320.8,778.3 1318.3,781.7 1315.8,785.8 1315.0,790.0M1252.5,708.3 1250.8,704.2 1246.7,702.5 1244.2,699.7 1240.8,699.2 1237.5,700.8 1235.0,705.0 1230.0,705.8M1311.7,636.7 1312.5,643.3 1315.0,648.3 1314.2,653.3 1316.7,657.5 1320.8,656.7 1325.0,655.0 1330.8,654.7 1335.0,655.3 1335.8,658.0 1339.2,657.5 1343.3,660.0 1346.7,657.5 1348.7,655.0 1346.7,652.5 1343.7,651.7 1344.2,645.0 1344.7,636.7 1347.5,633.3 1345.0,630.0 1344.7,623.3 1341.7,617.5 1338.3,613.3 1335.8,608.3 1334.2,603.3 1331.7,598.3 1335.8,596.7 1338.3,590.0 1340.0,585.8 1344.2,584.2 1346.7,585.8 1349.2,590.0 1352.5,588.3 1356.7,587.5 1361.7,588.0 1365.3,589.7M1365.3,589.7 1370.8,588.3 1372.5,584.2 1376.7,580.0 1380.0,575.8 1379.2,574.2 1381.7,570.0 1385.0,569.2 1388.3,572.5 1393.3,573.3 1398.3,575.0 1403.3,577.5 1407.5,581.7 1410.0,585.0 1413.3,586.7M1365.3,589.7 1366.7,593.3 1370.0,597.5 1375.0,601.7 1380.0,605.8 1384.2,610.8 1386.7,614.2 1390.8,617.5 1394.2,623.3 1394.2,630.0 1398.3,631.3 1401.7,629.2 1402.5,622.5 1404.7,621.7 1405.0,627.5 1410.0,626.7 1413.3,625.8M1413.3,636.7 1409.2,640.0 1406.7,643.3 1409.2,644.2 1407.5,648.3 1406.7,652.5 1403.3,653.3 1407.5,655.0 1409.2,659.2 1411.7,663.3 1413.3,665.0M1230.0,705.8 1226.7,706.7 1222.5,705.8 1218.3,704.7 1214.2,702.5 1216.7,705.8 1218.0,710.0 1220.8,712.5 1219.2,715.8 1215.0,718.3 1207.5,720.3 1204.2,718.0 1199.2,716.7 1194.2,718.0 1191.7,721.7 1191.3,727.5 1192.0,732.5 1189.2,736.3 1185.0,738.0 1181.7,735.0 1180.0,734.2 1175.0,737.0 1170.0,738.3 1165.0,741.3 1161.7,740.3 1155.0,741.3 1148.3,742.5 1145.8,739.2 1140.8,735.8 1136.7,734.2 1135.8,738.3 1136.3,742.5 1131.7,745.8 1126.7,747.5 1125.3,752.5 1121.7,756.7 1123.3,760.8 1121.7,764.7 1124.7,767.5 1124.2,773.3 1120.0,777.5 1117.5,781.7 1115.8,784.2 1119.2,787.5 1120.0,793.3 1120.8,798.3 1121.7,803.0 1116.7,804.2 1113.3,804.2 1109.2,806.7 1105.0,808.0 1102.5,807.0 1100.0,804.7 1098.7,805.3 1101.7,809.7 1103.3,815.0 1105.8,819.2 1109.2,820.8 1111.7,817.5 1114.2,818.3 1114.2,822.5 1116.7,826.7 1119.2,831.7 1121.3,836.7 1118.3,840.0 1116.7,845.0 1119.2,849.2 1122.5,854.2 1128.3,859.2 1134.2,863.3 1137.5,869.2 1140.8,872.5 1140.0,875.0 1145.0,880.0 1149.2,884.2 1151.7,888.3 1154.2,889.2 1158.3,889.2 1160.8,892.5 1163.3,897.5 1164.7,900.8 1161.7,901.7 1162.5,905.0 1160.0,906.7 1163.3,910.8 1166.7,915.0M1315.0,790.0 1314.2,795.0 1315.8,798.3 1312.5,802.5 1310.0,805.0 1306.7,807.5 1304.2,811.3 1306.7,814.7 1310.8,817.0 1309.7,820.8 1311.3,825.0 1310.8,829.2 1311.7,832.5 1308.3,835.8 1305.8,839.2 1302.5,841.7 1301.7,846.7 1300.0,850.8 1298.3,855.0 1295.8,858.7 1299.2,860.3 1303.3,861.7 1307.0,864.2 1310.3,865.3 1313.3,861.7 1315.8,858.7 1320.0,855.3 1324.2,852.0 1324.2,850.3 1328.3,850.0 1332.0,847.5 1335.0,844.2 1338.3,841.7 1343.3,840.0 1345.0,835.8 1346.3,831.3 1352.5,833.7 1355.8,830.0 1359.2,826.3 1362.5,823.7 1367.5,823.7 1370.0,826.7 1374.2,830.0 1377.5,832.5 1380.8,834.2 1384.2,836.7 1390.8,837.0 1392.5,839.7 1391.7,844.2 1395.8,845.8 1396.7,843.3 1401.7,840.0 1406.7,837.0 1413.3,834.7M938.3,840.0 939.2,845.0 941.7,849.2 943.0,854.2 945.0,857.5 945.8,860.8 942.5,860.0 944.2,865.0 943.7,870.0 945.0,875.0 940.8,876.3 940.0,880.8 936.7,882.5 938.3,885.8 936.7,891.7 935.8,895.8 932.5,898.3 933.0,903.3 932.7,905.0M1034.2,905.0 1033.3,904.2 1036.7,902.0 1039.2,902.0 1036.7,905.0 1037.5,910.0 1039.2,915.0 1043.3,918.3 1048.3,920.0 1054.2,919.2 1060.0,915.8 1063.3,910.8 1066.7,906.7 1070.0,901.7 1071.7,897.5 1068.3,896.7 1072.5,894.2 1074.2,889.2 1073.3,883.3 1070.8,879.2 1074.2,874.2 1070.0,870.8 1072.5,866.7 1073.3,870.8 1078.3,874.2 1082.5,877.5 1085.8,881.7 1087.5,885.8 1090.0,885.0 1094.2,885.8 1090.0,887.5 1089.2,891.7 1091.7,897.5 1093.3,903.3 1095.8,909.2 1098.3,911.7 1099.2,918.3 1103.3,918.0 1110.0,917.5 1116.7,916.3 1120.8,915.8 1116.7,918.3 1113.3,921.7 1115.0,928.3 1113.3,935.0 1110.8,940.8 1110.8,945.8 1115.0,950.8 1119.2,955.0 1120.0,961.7 1120.8,969.2 1121.7,976.7 1122.5,981.7 1120.8,986.7 1123.3,991.7 1124.2,998.3 1123.3,1003.3 1125.0,1010.0 1127.5,1016.7 1130.0,1023.3 1131.7,1030.0 1134.2,1035.8 1135.0,1040.0M1129.2,1015.0 1133.3,1014.2 1135.8,1022.5 1132.5,1020.8 1130.0,1018.3 1129.2,1015.0M1105.0,920.0 1113.3,918.7 1114.2,923.3 1112.5,930.0 1110.8,935.8 1107.5,936.3 1106.7,931.7 1105.0,926.7ZM1115.0,970.0 1116.3,972.5 1115.8,975.0 1114.7,972.5ZM933.1,905.0 932.3,908.6 931.3,912.2 929.4,914.0 930.9,915.8 930.5,918.0 926.6,917.6 925.8,921.6 925.1,925.9 924.0,927.4 924.0,932.4 923.3,937.5 922.8,942.6 922.6,946.2 924.4,948.7 926.6,948.3 928.7,947.3 930.5,947.6 931.3,945.1 933.8,944.0 936.3,941.8 938.5,938.9 939.9,935.3 940.3,931.7 942.1,930.6 943.5,932.4 941.7,936.1 939.9,939.7 937.4,943.3 934.5,945.8 932.3,946.9 932.7,949.8 934.1,951.9 934.9,954.8 933.4,956.3 935.6,955.6 936.7,952.7 938.1,950.1 940.3,947.6 943.2,945.4 945.7,942.6 947.5,939.7 947.9,936.1 946.1,933.9 944.6,930.3 946.1,928.1 948.9,927.4 949.7,923.8 949.3,920.2 948.6,918.0 950.4,917.6 952.9,918.4 951.8,920.5 952.2,923.8 952.6,926.7 950.8,928.8 949.7,932.4 950.0,936.1 949.7,939.7 948.2,943.3 946.1,946.2 943.9,948.3 942.8,950.5 944.6,951.9 946.8,949.8 949.7,946.9 951.8,943.3 953.3,940.4 955.4,938.2 954.7,941.1 953.3,944.7 951.5,948.3 948.9,951.2 947.5,953.4 949.7,955.6 951.8,957.0 954.0,958.4 954.7,955.6 954.0,952.7 955.4,950.5 957.6,948.3 959.8,947.6 961.9,946.2 962.7,944.4 961.2,942.6 959.1,940.4 959.8,937.5 961.2,935.3 964.1,934.6 967.0,933.2 966.3,935.3 964.1,936.8 961.9,937.5 961.2,939.7 962.7,941.8 963.4,945.4 961.9,948.3 959.8,949.8 958.3,951.9 959.8,954.1 961.9,955.6 961.2,957.7 958.3,958.4 961.2,959.9 964.8,961.0 967.0,959.9 969.2,958.1 970.3,955.6 970.6,951.2 971.0,946.9 970.6,943.3 972.1,940.4 974.9,938.9 977.8,939.3 980.0,940.4 977.1,941.8 974.2,942.6 973.5,945.4 972.8,949.8 972.8,954.1 973.9,957.7 976.4,959.9 979.3,959.2 980.0,956.3 979.6,951.9 980.7,948.3 982.5,946.9 983.3,949.1 982.2,952.7 981.8,956.3 983.6,954.1 985.4,951.2 986.1,947.6 986.5,943.3 986.1,939.7 987.2,938.9 988.3,943.3 988.3,947.6 986.9,951.2 985.1,954.1 983.3,957.0 982.9,960.6 983.6,962.8 987.2,963.5 990.1,963.1 993.0,961.3 996.6,958.4 1000.2,955.2 1003.8,951.2 1006.0,948.3 1006.4,944.7 1007.8,941.1 1008.2,937.5 1007.8,935.0 1008.9,936.8 1009.6,938.9 1011.8,938.2 1014.7,936.1 1017.6,933.9 1021.2,933.2 1024.1,931.7 1026.2,929.6 1027.3,927.4 1024.8,926.3 1023.3,925.6 1026.2,926.7 1029.1,928.5 1033.4,927.4 1037.8,926.3 1040.7,924.5 1042.5,922.3 1040.7,920.2 1038.5,917.6 1036.3,915.1 1037.1,912.2 1035.6,908.6 1034.2,905.0M1135.0,1040.0 1138.3,1045.0 1140.8,1049.2 1140.8,1053.3 1138.3,1057.5 1139.7,1062.5 1139.2,1067.5 1140.0,1073.3 1142.0,1077.5 1142.5,1083.3 1144.7,1084.2 1145.0,1079.2 1146.7,1075.3 1148.3,1074.2 1151.7,1075.8 1154.2,1080.8 1157.5,1085.0 1160.0,1090.0 1160.8,1094.2 1162.5,1098.3 1165.0,1101.7 1167.5,1105.8 1168.0,1111.7 1170.0,1116.7 1171.3,1123.3 1173.0,1128.3 1173.3,1131.7 1170.0,1129.2 1171.7,1133.3 1172.5,1138.3 1171.7,1142.5 1175.0,1141.7 1170.0,1143.7 1170.8,1150.0M1165.8,914.2 1168.3,918.3 1170.8,922.5 1171.7,926.7 1172.5,930.8 1175.8,930.0 1178.3,926.7 1180.8,921.7 1183.3,923.3 1185.3,925.8 1185.0,930.8 1182.5,934.2 1181.3,939.2 1179.2,940.8 1175.0,940.0 1171.7,940.8 1170.0,944.2 1165.8,945.3 1167.5,948.3 1167.0,955.0 1166.3,961.7 1166.7,968.3 1166.3,975.0 1167.0,981.7 1165.3,984.2 1161.7,982.0 1157.5,983.0 1156.7,987.5 1154.2,986.7 1150.0,987.5 1146.7,990.8 1144.2,992.5 1143.7,997.5 1145.0,1000.8 1145.8,1006.7 1147.5,1011.7 1150.0,1016.7 1154.2,1021.7 1158.3,1025.8 1161.7,1031.7 1165.0,1036.7 1168.3,1040.8 1173.3,1043.3 1176.7,1047.5 1180.8,1050.0 1185.8,1053.3 1188.3,1055.8 1190.0,1059.2 1194.2,1065.0 1196.7,1068.3 1198.3,1074.2 1199.7,1076.7 1199.7,1083.3 1200.8,1090.0 1201.3,1096.7 1200.0,1102.5 1197.5,1104.2 1196.7,1110.0 1199.2,1115.0 1201.7,1120.0 1204.2,1125.0 1206.7,1130.0 1210.8,1135.0 1213.0,1140.0 1213.7,1145.0 1214.7,1150.0M1244.3,1140.0 1245.8,1143.3 1246.7,1150.0M1131.7,1149.2 1135.8,1147.5 1140.0,1146.7M1144.7,1055.8 1147.5,1057.5 1148.7,1065.0 1148.3,1073.3 1146.3,1074.7 1145.0,1068.3 1144.7,1061.7ZM1129.7,1066.7 1131.7,1067.5 1130.8,1071.7 1129.2,1070.0ZM1148.3,1102.5 1150.3,1105.0 1151.7,1110.0 1153.7,1111.7 1151.7,1114.2 1152.5,1119.2 1150.3,1116.7 1149.2,1110.8 1148.0,1105.8ZM1152.5,1132.5 1155.8,1133.3 1158.3,1137.5 1160.8,1136.7 1162.5,1141.7 1164.2,1146.7 1161.7,1148.3 1159.2,1144.2 1156.7,1145.8 1154.2,1141.7 1152.5,1136.7ZM1349.9,1133.3 1351.7,1138.0 1354.3,1140.7 1357.7,1140.0 1360.3,1142.7 1363.7,1146.0 1367.0,1149.3 1370.3,1152.0 1373.0,1155.3 1375.7,1160.0M1411.7,1047.3 1410.3,1050.7 1408.3,1054.7 1405.0,1058.7 1401.0,1063.3 1398.3,1068.0 1395.0,1072.7 1392.3,1076.0 1389.0,1077.3 1388.3,1079.3 1391.7,1079.3 1390.3,1081.3 1385.0,1082.7 1380.3,1083.3 1377.0,1084.0 1375.9,1086.7 1377.0,1090.7 1376.7,1096.0 1377.7,1101.3 1379.7,1106.0 1382.3,1110.7 1385.0,1114.7 1385.7,1117.3 1383.7,1120.0 1385.7,1124.0 1386.3,1128.7 1385.0,1133.3 1387.7,1136.0 1391.7,1138.7 1395.7,1142.0 1399.0,1145.3 1401.0,1146.7 1399.0,1150.7 1397.0,1154.7 1396.3,1160.0M1390.3,1160.0 1393.0,1158.7 1395.0,1160.0M1353.0,1136.7 1356.3,1137.3 1356.3,1141.3 1353.7,1140.7ZM1359.0,1138.7 1363.7,1138.7 1365.0,1142.0 1361.7,1144.0 1359.0,1142.0ZM1369.7,1146.0 1374.3,1145.3 1378.3,1149.3 1377.7,1153.3 1373.7,1154.0 1371.0,1150.7ZM1371.7,1147.3 1375.0,1148.0 1376.3,1151.3 1373.7,1152.0ZM855.8,1082.5 852.5,1084.2 850.0,1090.0 848.3,1095.0 846.7,1100.0 847.5,1105.0 845.8,1110.8 845.0,1116.7 843.3,1121.7 840.8,1125.0 841.7,1130.0 843.0,1134.2 840.0,1136.7 839.7,1143.3 840.0,1150.0 840.8,1154.2 844.2,1156.7 843.3,1160.0 840.0,1158.3 836.7,1159.2 835.0,1164.2 834.7,1170.0 832.5,1174.2 830.0,1175.8 829.2,1179.2 831.7,1181.7 831.3,1185.8 834.2,1189.2 836.7,1193.3 839.2,1195.8 841.7,1192.5 843.0,1187.5 843.7,1181.7 844.7,1175.8 842.5,1173.3 843.0,1168.3 845.0,1165.0 848.3,1162.5 849.2,1158.3 850.0,1153.3 849.2,1149.2 847.5,1147.5 851.7,1146.7 854.2,1143.3 855.0,1138.3 854.2,1133.3 854.7,1128.3 853.7,1123.3 852.5,1119.2 849.2,1119.2 850.0,1115.0 852.5,1110.8 855.8,1113.3 858.3,1110.8 859.2,1105.0 860.0,1100.0 857.5,1097.5 855.0,1095.8 858.3,1094.2 860.0,1090.8 859.2,1085.8 858.3,1083.0ZM837.5,1116.7 839.7,1115.0 840.8,1117.5 840.0,1122.5 838.3,1125.8 836.7,1123.3ZM834.7,1198.0 837.5,1197.5 839.2,1202.5 838.0,1206.7 833.7,1206.7 832.5,1204.2ZM836.7,1190.0 840.0,1187.5 841.7,1191.7 839.2,1194.2ZM811.7,1193.0 814.7,1192.5 816.3,1195.0 814.7,1197.5 812.5,1196.3ZM853.0,1170.0 855.8,1168.3 857.5,1171.7 859.2,1175.8 857.5,1177.0 855.0,1174.2ZM858.7,1159.2 861.3,1158.7 862.0,1164.2 860.0,1165.8 858.3,1162.5ZM876.2,1050.0 878.0,1049.7 878.3,1054.2 876.3,1055.8ZM877.0,1050.8 877.3,1054.2ZM828.7,1232.0 831.3,1234.0 832.9,1238.7 833.7,1244.0 832.4,1248.0 830.0,1249.6 832.0,1250.7 830.0,1254.0 827.3,1254.7 824.9,1252.7 822.7,1253.3 820.4,1253.1 822.0,1250.4 822.7,1247.3 820.9,1245.3 820.4,1240.0 822.0,1237.3 824.9,1233.3ZM839.3,1326.0 842.0,1323.7 845.3,1324.7 847.1,1328.0 846.0,1332.0 842.7,1332.7 839.6,1330.7ZM888.7,1362.0 890.7,1364.0 891.3,1367.3 890.0,1370.4 888.7,1368.0 888.9,1364.7ZM858.7,1374.7 861.3,1374.0 862.7,1378.0 866.0,1381.3 865.3,1383.3 862.0,1382.9 859.3,1380.0ZM883.3,1381.3 885.3,1381.6 884.7,1384.7 885.3,1388.0 886.0,1390.7 882.0,1390.7 880.7,1386.7 881.7,1383.3ZM1170.8,1150.0 1172.7,1151.3 1168.0,1152.7 1165.3,1156.0 1166.0,1159.3 1169.3,1160.0 1172.7,1158.0 1174.7,1156.0 1174.0,1160.7 1171.3,1164.0 1172.0,1168.0 1175.3,1169.3 1174.7,1173.3 1170.7,1174.7 1166.7,1176.0 1170.0,1178.0 1172.7,1176.7 1174.0,1180.0 1170.7,1182.7 1169.3,1186.0 1172.7,1186.7 1176.0,1185.3 1178.7,1182.7 1180.7,1180.0 1180.0,1184.0 1182.7,1186.0 1184.7,1188.0 1181.3,1187.3 1178.7,1186.7 1176.0,1189.3 1175.3,1193.3 1176.0,1197.3 1174.7,1201.3 1176.7,1204.0 1175.3,1208.0 1176.7,1212.0 1176.0,1216.0 1174.0,1218.7 1172.0,1220.0 1172.7,1224.0 1175.3,1223.3 1174.7,1227.3 1172.7,1230.0 1175.3,1232.0 1174.0,1234.0 1169.3,1234.7 1167.3,1238.7 1164.0,1241.3 1161.3,1242.0 1160.7,1245.3 1161.6,1250.7 1162.7,1256.0 1164.0,1260.0 1163.3,1265.3 1162.7,1270.7 1163.7,1276.0 1164.7,1281.3 1166.0,1282.9M1214.7,1150.0 1216.0,1156.0 1217.3,1162.0 1220.7,1162.7 1220.7,1166.7 1221.6,1172.0 1222.7,1176.0 1226.0,1180.0 1225.3,1184.0 1222.7,1188.0 1219.3,1191.3 1216.0,1192.0 1214.7,1194.7 1212.7,1199.3 1210.0,1204.0 1207.3,1208.7 1204.7,1213.3 1202.7,1218.0 1200.7,1222.7 1197.3,1225.3 1193.3,1228.0 1191.3,1230.0 1188.7,1232.7 1188.0,1236.0 1185.3,1238.0 1182.0,1239.3 1178.7,1242.7 1176.7,1245.3 1177.3,1248.0 1180.0,1250.7 1179.3,1254.7 1177.3,1259.3 1175.3,1264.7 1172.7,1270.0 1170.0,1275.3 1168.0,1280.0 1166.0,1284.7 1164.0,1289.3 1162.7,1294.7 1161.3,1300.0M1246.7,1150.0 1246.0,1153.3 1248.0,1158.0 1246.0,1161.3 1243.3,1165.3 1240.0,1169.3 1238.0,1173.3 1236.7,1177.3 1236.0,1181.3 1236.7,1184.7 1233.3,1186.0 1231.3,1189.3 1228.7,1193.3 1226.7,1197.3 1224.7,1202.7 1222.7,1208.0 1222.0,1213.3 1223.3,1216.0 1220.7,1218.0 1218.7,1222.7 1219.3,1226.7 1217.3,1230.0 1218.7,1233.3 1215.3,1234.7 1213.3,1240.0 1210.0,1244.0 1207.3,1246.7 1205.3,1250.7 1203.3,1253.3 1206.0,1256.0 1205.3,1259.3 1202.0,1260.7 1199.3,1262.7 1199.3,1266.0 1202.7,1268.0 1205.3,1270.0 1203.3,1272.0 1200.7,1273.3 1199.3,1277.3 1200.0,1282.0 1199.3,1286.7 1198.7,1292.0 1199.3,1296.7 1198.7,1300.0M1250.7,1300.0 1251.3,1297.3 1250.0,1294.0 1246.7,1293.3 1244.7,1295.3 1245.6,1298.0 1247.3,1300.0M1132.0,1150.0 1135.3,1147.3 1139.3,1146.7 1140.0,1150.0 1137.3,1151.3 1136.0,1154.0 1133.3,1154.7ZM1136.7,1156.0 1140.0,1154.7 1142.7,1156.7 1143.3,1161.3 1141.3,1162.7 1138.7,1160.7ZM1158.7,1164.7 1160.7,1166.0 1163.3,1169.3 1166.7,1172.7 1170.7,1174.7 1174.0,1176.0 1172.7,1178.0 1168.7,1178.0 1165.3,1176.7 1162.0,1174.7 1160.0,1170.7ZM1148.0,1172.7 1150.0,1172.0 1150.9,1176.7 1149.3,1178.7 1148.3,1176.0ZM1134.7,1178.7 1136.7,1180.0 1138.0,1183.3 1139.3,1187.3 1140.0,1191.3 1138.0,1190.7 1136.0,1186.7 1134.9,1182.7ZM1155.3,1182.7 1160.0,1181.6 1165.3,1182.0 1166.0,1186.7 1164.7,1192.0 1165.3,1196.7 1162.7,1195.3 1159.3,1193.3 1157.3,1189.3 1156.0,1186.0ZM1150.0,1182.0 1152.7,1182.7 1152.0,1188.0 1150.7,1193.3 1149.3,1198.7 1146.7,1202.0 1144.0,1201.3 1145.3,1197.3 1147.3,1192.0 1148.7,1186.7ZM1115.6,1177.3 1116.5,1178.7ZM1147.3,1210.7 1151.3,1210.4 1152.0,1214.0 1149.3,1214.9 1147.3,1213.3ZM1148.3,1211.7 1150.7,1213.1ZM1158.7,1226.7 1162.0,1224.7 1164.0,1222.0 1165.3,1225.3 1164.7,1229.3 1161.3,1230.0ZM1139.3,1232.0 1142.7,1228.0 1146.0,1228.7 1147.3,1232.0 1148.7,1235.3 1150.7,1238.7 1150.7,1242.7 1148.7,1244.0 1147.3,1240.7 1146.0,1236.7 1143.3,1233.3 1140.7,1234.0ZM1128.0,1231.3 1131.3,1230.4 1132.0,1233.3 1129.3,1235.3ZM1162.0,1233.3 1165.3,1232.7 1168.0,1234.7 1166.0,1238.0 1162.7,1238.7ZM1163.3,1234.7 1166.0,1236.0ZM1128.3,1254.7 1131.3,1255.3 1132.0,1259.3 1129.3,1260.7 1128.0,1258.0ZM1129.3,1256.0 1130.7,1258.7ZM1144.7,1272.0 1147.3,1271.3 1148.0,1274.7 1146.7,1278.7 1150.0,1278.0 1151.3,1280.0 1148.7,1283.3 1146.0,1286.7 1143.3,1290.7 1141.3,1290.0 1142.0,1286.0 1144.7,1282.0 1145.3,1277.3ZM1161.7,1300.6 1160.9,1306.7 1158.9,1312.2 1156.7,1317.8 1154.4,1323.3 1152.8,1327.8 1151.7,1332.2 1151.1,1336.7 1150.0,1342.2 1148.9,1347.8 1147.8,1353.3 1147.2,1358.9 1146.7,1363.3 1147.2,1367.8 1148.9,1373.3 1150.0,1378.9 1151.1,1383.3 1150.9,1387.8 1150.0,1391.1M1160.9,1306.7 1163.9,1306.1 1165.6,1307.2 1162.8,1309.1 1160.6,1308.3M1151.1,1382.2 1154.4,1384.4 1157.8,1385.0 1160.6,1383.9 1160.9,1380.0 1159.4,1377.2 1158.9,1375.6 1162.2,1375.0 1165.6,1373.9 1168.9,1371.7 1171.7,1372.4 1171.1,1375.6 1173.3,1376.7 1175.6,1378.9 1177.2,1382.2 1177.2,1386.7 1177.6,1391.1M1163.9,1390.0 1165.6,1387.2 1168.3,1385.0 1170.6,1382.8 1170.0,1386.7 1168.3,1390.0M1152.2,1383.3 1153.3,1386.7 1156.7,1388.3 1159.4,1391.1M1199.1,1300.0 1200.6,1302.2 1202.2,1306.7 1204.4,1311.1 1207.2,1314.4 1209.4,1316.1 1206.7,1317.8 1203.9,1319.4 1203.3,1322.2 1204.4,1325.0 1208.3,1326.1 1211.1,1327.8 1215.6,1327.8 1218.9,1325.6 1220.0,1322.8 1223.3,1322.2 1227.8,1320.9 1233.3,1320.0 1237.2,1320.6 1239.4,1323.3 1240.9,1327.8 1242.0,1333.3 1242.4,1338.9 1242.8,1344.4 1243.9,1351.1 1244.4,1356.7 1245.6,1361.1 1248.9,1363.3 1251.1,1366.7 1253.3,1371.1 1256.1,1372.8 1257.6,1370.0 1256.1,1367.2 1253.9,1365.6 1255.6,1364.7 1258.3,1367.2 1260.6,1371.7 1262.2,1376.7 1263.1,1382.2 1263.9,1386.7 1264.4,1391.1M1148.3,1330.0 1150.6,1328.9 1152.8,1330.0 1154.4,1332.2 1156.7,1334.4 1157.2,1337.2 1155.0,1338.9 1153.3,1340.6 1150.6,1341.7 1148.9,1338.9 1148.0,1334.4ZM1150.0,1331.1 1152.2,1333.3 1151.7,1336.7 1150.0,1335.6ZM1245.0,1294.4 1247.2,1293.3 1250.0,1294.2 1251.7,1296.7 1252.2,1300.6 1250.6,1301.1 1248.3,1298.9 1246.1,1297.2ZM1242.8,1306.7 1246.7,1306.1 1250.6,1305.8 1252.0,1307.2 1251.1,1311.1 1249.4,1313.9 1246.1,1315.3 1243.1,1315.0 1242.4,1311.1ZM1228.3,1309.1 1229.8,1309.4ZM1135.8,1292.4 1137.6,1293.3ZM1156.1,1295.0 1158.3,1294.7 1158.7,1298.3 1156.4,1298.9ZM1157.1,1295.8 1157.6,1297.8ZM1125.6,1312.2 1129.1,1311.7 1129.4,1315.0 1127.2,1317.2 1125.3,1315.6ZM1126.7,1313.1 1128.0,1315.3ZM1375.7,1160.0 1377.3,1159.6 1379.7,1160.3 1382.0,1161.3 1384.3,1162.2 1386.7,1163.4 1388.5,1165.0 1389.0,1166.9 1389.9,1167.8 1391.1,1167.3 1390.6,1165.5 1390.4,1162.7 1390.2,1160.3 1390.9,1158.7 1392.3,1158.5 1393.7,1160.3 1395.5,1162.7 1397.4,1164.5 1399.3,1166.9 1401.1,1169.2 1402.3,1171.1 1402.1,1173.4 1402.5,1175.3 1403.9,1177.1 1405.3,1179.5 1407.2,1181.3 1409.1,1183.2 1410.5,1186.0 1410.9,1188.8 1411.4,1192.1 1412.1,1195.3M1402.1,1171.1 1401.6,1173.9 1401.8,1176.2 1403.5,1178.1 1405.3,1180.4 1407.7,1183.2 1408.6,1186.0 1409.1,1189.7 1410.0,1192.5 1411.4,1196.3M1396.3,1160.0 1396.6,1162.7 1397.0,1164.1M1372.2,1161.7 1373.6,1162.2 1375.5,1162.0 1376.9,1162.2 1378.3,1164.1 1380.1,1166.9 1382.0,1169.7 1383.6,1171.5 1383.2,1172.9 1381.8,1173.2 1380.1,1172.7 1378.3,1173.2 1375.9,1173.4 1374.5,1172.5 1374.8,1170.6 1374.3,1168.3 1373.6,1165.5 1372.7,1163.6ZM1389.5,1183.4 1390.6,1184.6 1391.8,1186.9 1393.2,1189.3 1393.0,1192.1 1392.3,1195.3 1390.6,1195.3 1389.0,1193.9 1387.6,1193.0 1388.1,1190.7 1387.6,1188.3 1388.5,1185.5ZM1244.3,1140.0 1244.0,1133.3 1245.0,1126.7 1247.3,1122.7 1248.7,1118.0 1250.7,1114.7 1253.0,1112.0 1251.7,1107.3 1250.0,1105.0 1246.7,1102.7 1244.3,1100.0 1244.0,1097.7 1245.7,1096.7 1247.3,1094.7 1248.7,1092.0 1252.7,1090.3 1258.0,1088.3 1261.3,1086.0 1262.7,1086.0 1264.7,1087.7 1270.0,1087.3 1275.3,1086.3 1278.7,1085.3 1279.3,1083.3 1279.0,1081.3 1280.0,1080.3 1281.0,1082.0 1280.7,1084.3 1283.3,1086.0 1288.0,1087.0 1292.7,1088.7 1296.7,1089.3 1300.0,1089.0 1301.7,1087.0 1302.3,1088.0 1302.0,1090.7 1302.3,1093.3 1300.7,1095.0 1298.3,1096.3 1297.3,1098.7 1299.0,1100.7 1300.0,1103.3 1298.0,1106.7 1295.7,1109.3 1297.0,1111.3 1299.3,1114.0 1296.7,1116.0 1294.7,1119.3 1296.7,1122.0 1298.7,1125.3 1297.3,1127.3 1294.7,1128.0 1293.7,1131.0 1295.0,1133.3 1297.3,1134.7 1300.0,1136.7 1301.7,1134.7 1306.7,1132.7 1313.3,1133.3 1320.0,1135.0 1325.3,1137.0 1331.3,1134.7 1338.0,1133.3 1340.7,1131.0 1344.7,1130.7 1350.0,1133.3"/>
<ellipse cx="895.0" cy="1009.6" rx="2.4" ry="2.8" fill="#000"/><ellipse cx="1126.7" cy="1126.8" rx="2.0" ry="2.2" fill="#000"/><ellipse cx="1126.1" cy="1139.2" rx="2.1" ry="2.4" fill="#000"/><ellipse cx="1149.2" cy="1140.6" rx="2.4" ry="2.6" fill="#000"/><ellipse cx="1354.9" cy="1139.1" rx="1.5" ry="1.8" fill="#000"/><ellipse cx="1361.9" cy="1141.3" rx="2.2" ry="2.0" fill="#000"/><ellipse cx="856.7" cy="1077.8" rx="2.7" ry="2.1" fill="#000"/><ellipse cx="860.2" cy="1162.2" rx="1.3" ry="2.6" fill="#000"/><ellipse cx="926.8" cy="1091.0" rx="2.2" ry="1.7" fill="#000"/><ellipse cx="903.6" cy="1155.7" rx="1.8" ry="1.7" fill="#000"/><ellipse cx="1135.7" cy="1150.5" rx="2.4" ry="2.5" fill="#000"/><ellipse cx="1116.0" cy="1178.1" rx="2.0" ry="2.6" fill="#000"/><ellipse cx="1104.9" cy="1182.5" rx="1.8" ry="1.9" fill="#000"/><ellipse cx="1146.5" cy="1254.3" rx="2.2" ry="2.4" fill="#000"/><ellipse cx="1136.5" cy="1292.9" rx="2.2" ry="2.2" fill="#000"/><ellipse cx="1157.7" cy="1296.8" rx="1.7" ry="2.6" fill="#000"/><ellipse cx="1164.9" cy="1292.3" rx="1.8" ry="2.4" fill="#000"/><ellipse cx="1164.3" cy="1297.5" rx="2.4" ry="2.5" fill="#000"/><ellipse cx="1154.4" cy="1336.1" rx="1.8" ry="2.4" fill="#000"/><ellipse cx="1147.2" cy="1364.2" rx="2.4" ry="2.6" fill="#000"/><ellipse cx="1228.4" cy="1304.0" rx="1.4" ry="1.4" fill="#000"/><ellipse cx="1229.1" cy="1309.3" rx="2.2" ry="1.6" fill="#000"/><ellipse cx="1136.8" cy="1292.9" rx="2.5" ry="2.5" fill="#000"/>
</g>
<rect x="691.5" y="166.5" width="722.0" height="1226.0" fill="none" stroke="#000" stroke-width="3"/>
<text class="l" text-anchor="end" transform="translate(669.8,1351.2) scale(1,1.033)">9°N</text><text class="l" text-anchor="end" transform="translate(669.8,1183.5) scale(1,1.033)">12°N</text><text class="l" text-anchor="end" transform="translate(669.8,1015.9) scale(1,1.033)">15°N</text><text class="l" text-anchor="end" transform="translate(669.8,848.2) scale(1,1.033)">18°N</text><text class="l" text-anchor="end" transform="translate(669.8,680.5) scale(1,1.033)">21°N</text><text class="l" text-anchor="end" transform="translate(669.8,512.9) scale(1,1.033)">24°N</text><text class="l" text-anchor="end" transform="translate(669.8,345.2) scale(1,1.033)">27°N</text>
<text class="l" text-anchor="middle" transform="translate(800.0,1445.8) scale(1,1.033)">92°E</text><text class="l" text-anchor="middle" transform="translate(911.1,1445.8) scale(1,1.033)">94°E</text><text class="l" text-anchor="middle" transform="translate(1022.9,1445.8) scale(1,1.033)">96°E</text><text class="l" text-anchor="middle" transform="translate(1135.0,1445.8) scale(1,1.033)">98°E</text><text class="l" text-anchor="end" transform="translate(1421,1445.8) scale(1,1.033)">102°E</text>
<rect x="1498.3" y="1261.70" width="61.40" height="130.40" fill="#5b53a4"/><rect x="1498.3" y="1131.90" width="61.40" height="130.40" fill="#4e63ac"/><rect x="1498.3" y="1002.10" width="61.40" height="130.40" fill="#3880b9"/><rect x="1498.3" y="872.30" width="61.40" height="130.40" fill="#60bba8"/><rect x="1498.3" y="742.50" width="61.40" height="130.40" fill="#bae3a1"/><rect x="1498.3" y="612.70" width="61.40" height="130.40" fill="#f5fbaf"/><rect x="1498.3" y="482.90" width="61.40" height="130.40" fill="#fee18d"/><rect x="1498.3" y="353.10" width="61.40" height="130.40" fill="#fa9b58"/><rect x="1498.3" y="223.30" width="61.40" height="130.40" fill="#d43d4f"/><path d="M1498.3 223.8 L1529.00 165.4 L1559.7 223.8 Z" fill="#9e0142"/>
<path d="M1498.3 1392.3 L1498.3 223.9 L1529.00 165.4 L1559.7 223.9 L1559.7 1392.3 Z" fill="none" stroke="#000" stroke-width="3.33" stroke-linejoin="miter"/>
<line x1="1559.7" y1="1392.30" x2="1575.50" y2="1392.30" stroke="#000" stroke-width="3.33"/><text class="l" transform="translate(1589,1408.0) scale(1,1.033)">2</text><line x1="1559.7" y1="1262.50" x2="1575.50" y2="1262.50" stroke="#000" stroke-width="3.33"/><text class="l" transform="translate(1589,1278.2) scale(1,1.033)">5</text><line x1="1559.7" y1="1132.70" x2="1575.50" y2="1132.70" stroke="#000" stroke-width="3.33"/><text class="l" transform="translate(1589,1148.4) scale(1,1.033)">10</text><line x1="1559.7" y1="1002.90" x2="1575.50" y2="1002.90" stroke="#000" stroke-width="3.33"/><text class="l" transform="translate(1589,1018.6) scale(1,1.033)">20</text><line x1="1559.7" y1="873.10" x2="1575.50" y2="873.10" stroke="#000" stroke-width="3.33"/><text class="l" transform="translate(1589,888.8) scale(1,1.033)">40</text><line x1="1559.7" y1="743.30" x2="1575.50" y2="743.30" stroke="#000" stroke-width="3.33"/><text class="l" transform="translate(1589,759.0) scale(1,1.033)">60</text><line x1="1559.7" y1="613.50" x2="1575.50" y2="613.50" stroke="#000" stroke-width="3.33"/><text class="l" transform="translate(1589,629.2) scale(1,1.033)">80</text><line x1="1559.7" y1="483.70" x2="1575.50" y2="483.70" stroke="#000" stroke-width="3.33"/><text class="l" transform="translate(1589,499.4) scale(1,1.033)">100</text><line x1="1559.7" y1="353.90" x2="1575.50" y2="353.90" stroke="#000" stroke-width="3.33"/><text class="l" transform="translate(1589,369.6) scale(1,1.033)">120</text><line x1="1559.7" y1="224.10" x2="1575.50" y2="224.10" stroke="#000" stroke-width="3.33"/><text class="l" transform="translate(1589,239.8) scale(1,1.033)">150</text>
</svg></body></html>
